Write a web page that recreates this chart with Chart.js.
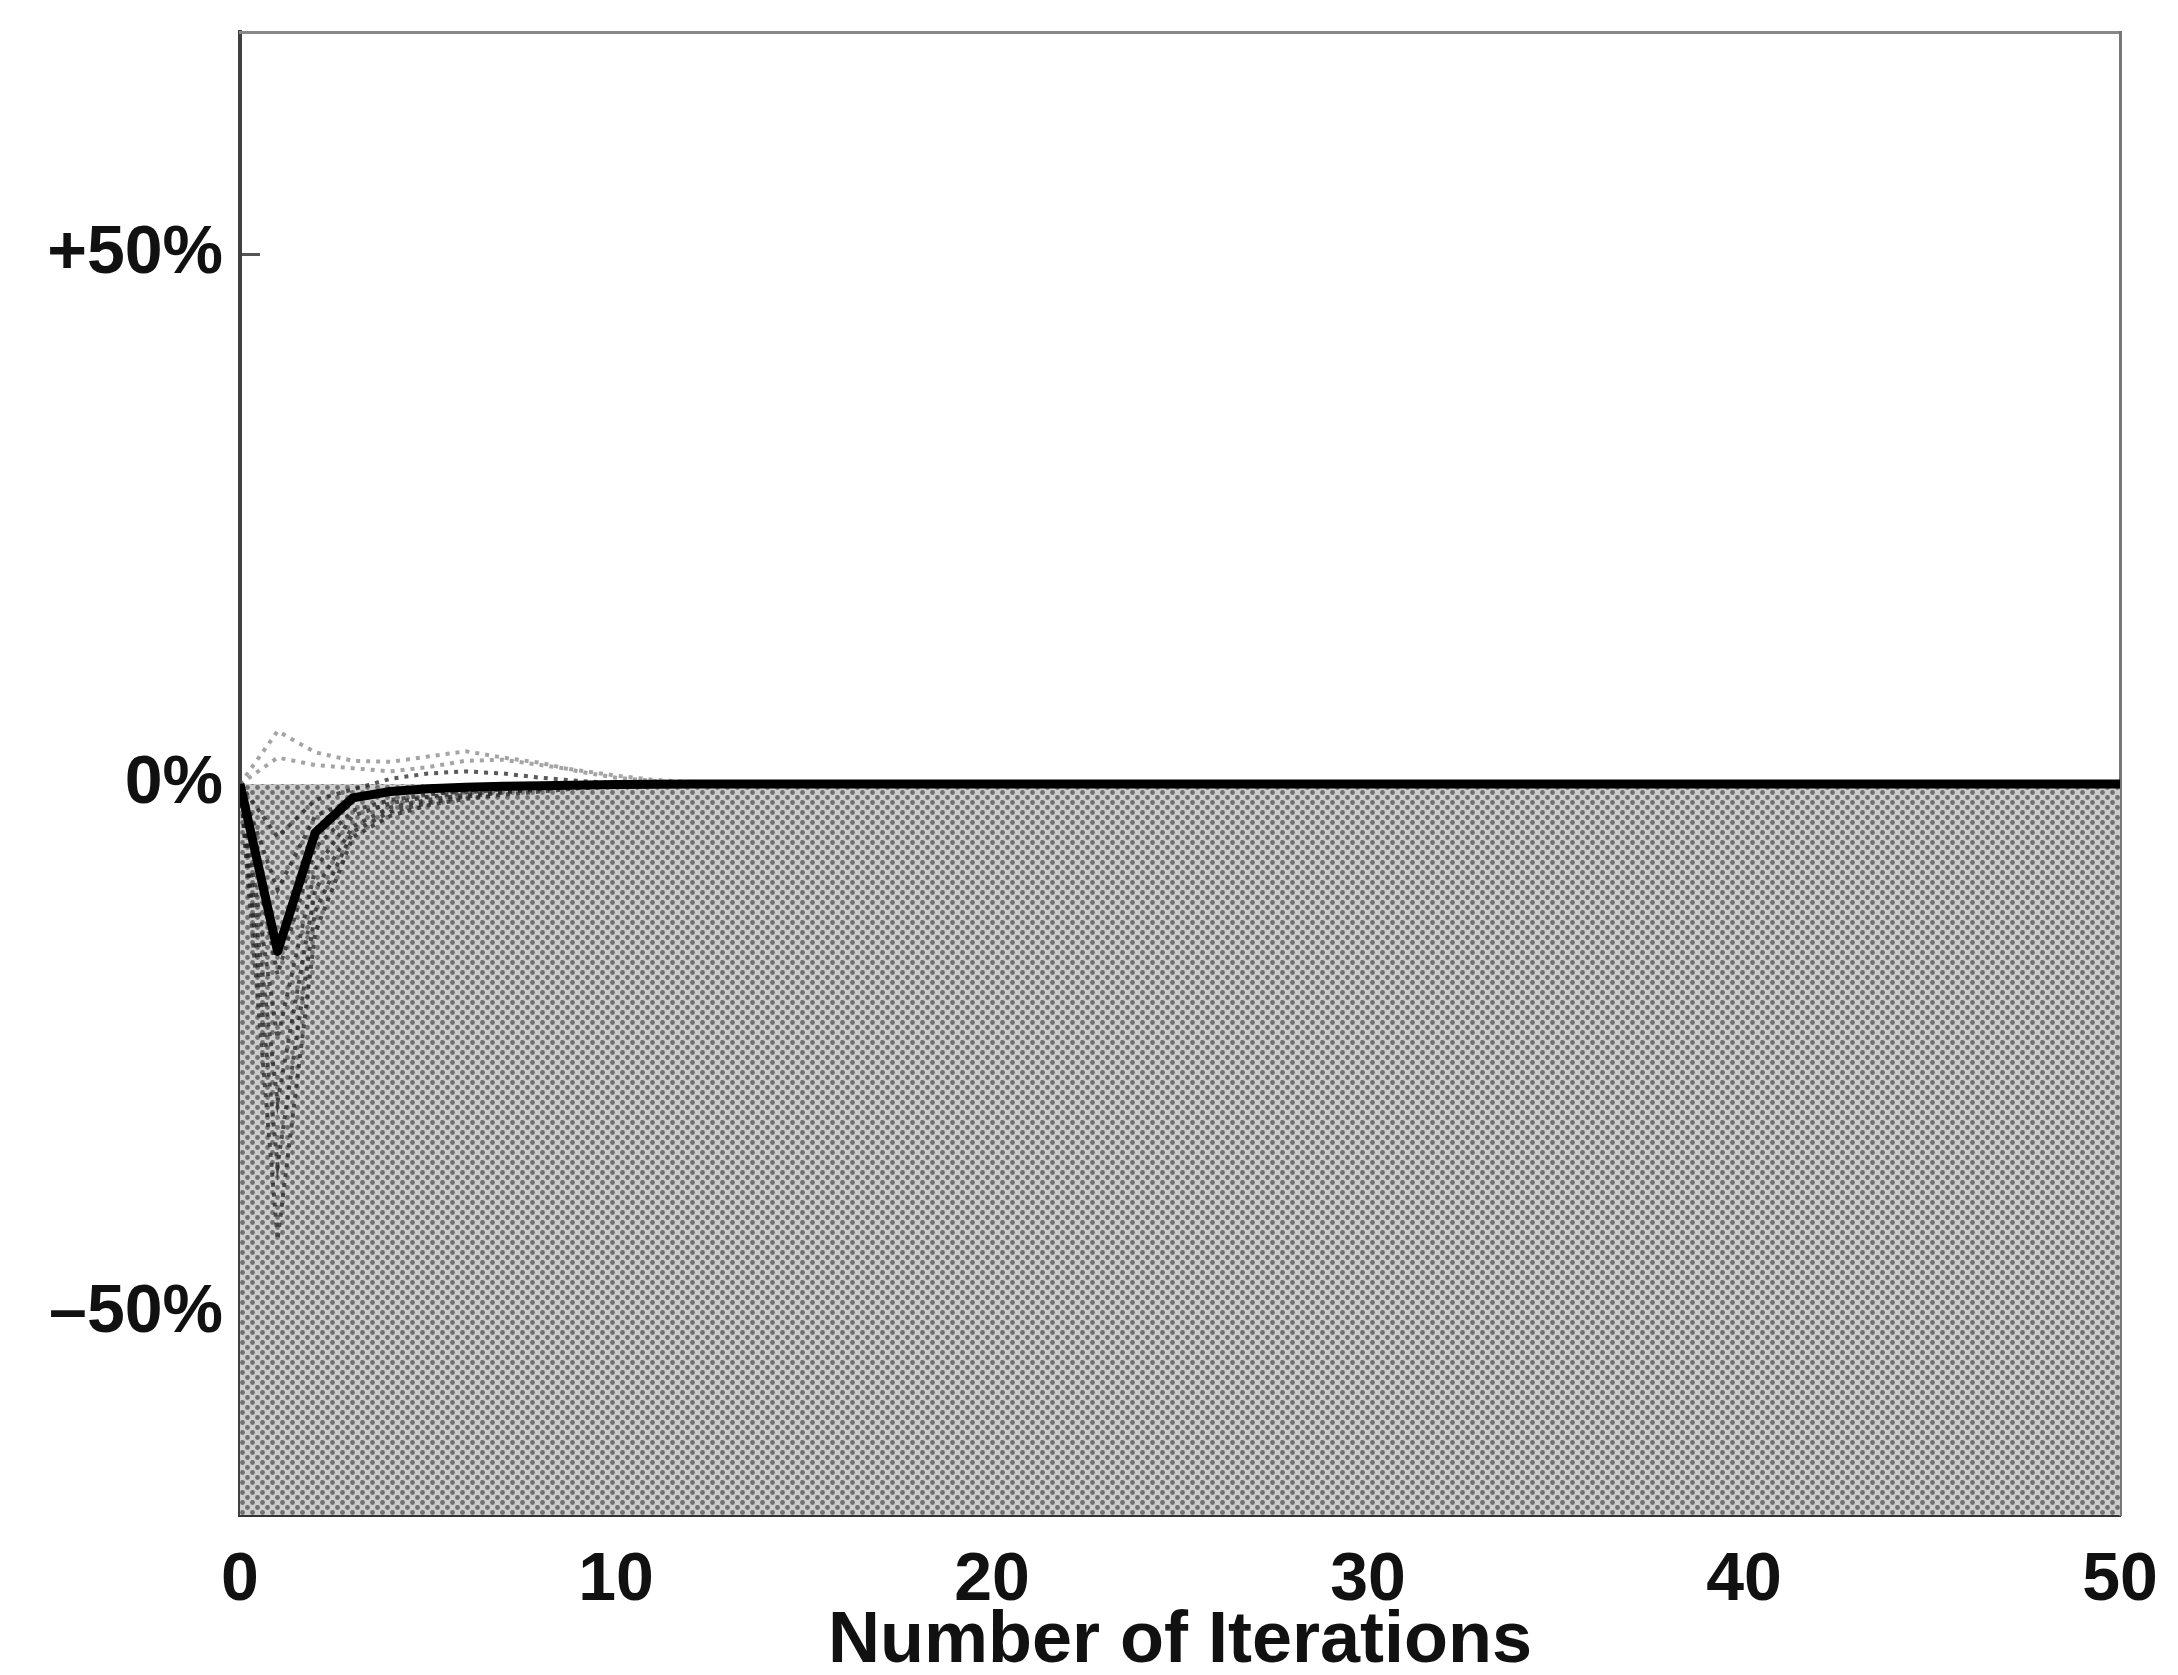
<!DOCTYPE html>
<html lang="en">
<head>
  <meta charset="UTF-8">
  <title>Number of Iterations</title>
  <script src="https://cdn.jsdelivr.net/npm/chart.js"></script>
  <style>
    body{margin:0; background:#fff;}
    #wrap{width:2178px; height:1675px;}
  </style>
</head>
<body>
  <div id="wrap">
    <canvas id="myChart" width="2178" height="1675"></canvas>
  </div>
<script>
  // ----- data -----
  const xTicks = [0, 10, 20, 30, 40, 50];
  const yTicks = [-50, 0, 50];
  const yTickLabels = ['–50%', '0%', '+50%'];

  // mean curve (thick black)
  const meanIter = [0, 1, 2, 3, 4, 5, 6, 7, 8, 10, 12, 15, 20, 30, 40, 50];
  const meanPct  = [0, -15.8, -4.6, -1.3, -0.7, -0.45, -0.3, -0.2, -0.15, -0.05, 0, 0, 0, 0, 0, 0];

  // single runs (dotted)
  const runIter = [0, 1, 2, 3, 4, 5, 6, 7, 8, 9, 10, 11, 12];
  const runA = [0, 5.0, 3.0, 2.2, 2.1, 2.6, 3.1, 2.5, 2.0, 1.2, 0.6, 0.3, 0.1];
  const runB = [0, 2.5, 1.8, 1.5, 1.2, 1.6, 2.2, 2.3, 1.8, 1.3, 0.8, 0.4, 0.2];
  const runC = [0, -43, -14, -5, -3, -2, -1.4, -1, -0.7, -0.4, -0.2, -0.1, 0];
  const runD = [0, -36, -12, -4.5, -2.6, -1.8, -1.2, -0.8, -0.5, -0.3, -0.1, 0, 0];
  const runE = [0, -30, -10, -4, -2.2, -1.5, -1, -0.7, -0.4, -0.2, -0.1, 0, 0];
  const runF = [0, -24, -8, -3, -1.8, -1.2, -0.8, -0.5, -0.3, -0.1, 0, 0, 0];
  const runG = [0, -18, -6, -2.5, -1.5, -1, -0.6, -0.4, -0.2, -0.1, 0, 0, 0];
  const runH = [0, -10, -3, -1.5, -0.8, -0.5, -0.3, -0.2, -0.1, 0, 0, 0, 0];
  const runI = [0, -5, -1.5, -0.5, 0.5, 1.0, 1.2, 1.0, 0.6, 0.3, 0.1, 0, 0];
  const runs = [runA, runB, runC, runD, runE, runF, runG, runH, runI];

  // zero baseline (gray area below it)
  const zeroIter = [0, 50];
  const zeroPct = [0, 0];

  const toPts = (xs, ys) => xs.map((x, i) => ({x: x, y: ys[i]}));

  // halftone-like gray for the area below 0%
  function halftone(){
    const c = document.createElement('canvas');
    c.width = 10; c.height = 10;
    const g = c.getContext('2d');
    g.fillStyle = '#cdcdcd';
    g.fillRect(0, 0, 10, 10);
    g.fillStyle = '#707070';
    [[2.5, 2.5], [7.5, 7.5]].forEach(p => {
      g.beginPath();
      g.arc(p[0], p[1], 2.4, 0, Math.PI * 2);
      g.fill();
    });
    return g.createPattern(c, 'repeat');
  }

  const font = {family: "'Liberation Sans', Arial, sans-serif", weight: 'bold'};

  const datasets = [];
  datasets.push({
    data: toPts(meanIter, meanPct),
    borderColor: '#000',
    borderWidth: 9,
    pointRadius: 0,
    tension: 0,
    borderJoinStyle: 'round',
    fill: false
  });
  runs.forEach(r => {
    const up = Math.max.apply(null, r) > 2; // runs above 0 look lighter
    datasets.push({
      data: toPts(runIter, r),
      borderColor: up ? 'rgba(90,90,90,0.55)' : 'rgba(35,35,35,0.75)',
      borderWidth: 4,
      borderDash: [4, 6],
      pointRadius: 0,
      tension: 0,
      fill: false
    });
  });
  datasets.push({
    data: toPts(zeroIter, zeroPct),
    borderWidth: 0,
    pointRadius: 0,
    backgroundColor: halftone(),
    fill: 'start'
  });

  new Chart(document.getElementById('myChart'), {
    type: 'line',
    data: {datasets: datasets},
    options: {
      responsive: false,
      animation: false,
      devicePixelRatio: 1,
      layout: {padding: {top: 32, right: 58, left: 0, bottom: 0}},
      plugins: {legend: {display: false}, tooltip: {enabled: false}},
      scales: {
        x: {
          type: 'linear', position: 'bottom', min: 0, max: 50, z: 1,
          afterBuildTicks: s => { s.ticks = xTicks.map(v => ({value: v})); },
          afterFit: s => { s.height = 160; s.paddingLeft = 0; s.paddingRight = 0; },
          grid: {display: false},
          border: {display: true, color: '#333', width: 4},
          ticks: {padding: 17, color: '#111', font: Object.assign({size: 68}, font)},
          title: {
            display: true, text: 'Number of Iterations', color: '#111', padding: 0,
            font: Object.assign({size: 72, lineHeight: 0.9}, font)
          }
        },
        y: {
          type: 'linear', position: 'left', min: -69, max: 71, z: 1,
          afterBuildTicks: s => { s.ticks = yTicks.map(v => ({value: v})); },
          afterFit: s => { s.width = 240; s.paddingTop = 0; s.paddingBottom = 0; },
          grid: {
            drawOnChartArea: false, tickLength: -20, tickWidth: 3,
            tickColor: c => (c.tick && c.tick.value === 50) ? '#555' : 'rgba(0,0,0,0)'
          },
          border: {display: true, color: '#404040', width: 4},
          ticks: {
            padding: 37, color: '#111', font: Object.assign({size: 68}, font),
            callback: v => yTickLabels[yTicks.indexOf(v)]
          }
        },
        x2: {
          type: 'linear', position: 'top', min: 0, max: 50, display: true, z: 1,
          afterFit: s => { s.height = 0; s.paddingLeft = 0; s.paddingRight = 0; },
          grid: {display: false},
          border: {display: true, color: '#888', width: 3},
          ticks: {display: false}
        },
        y2: {
          type: 'linear', position: 'right', min: -69, max: 71, display: true, z: 1,
          afterFit: s => { s.width = 0; s.paddingTop = 0; s.paddingBottom = 0; },
          grid: {display: false},
          border: {display: true, color: '#777', width: 3},
          ticks: {display: false}
        }
      }
    }
  });
</script>
</body>
</html>
